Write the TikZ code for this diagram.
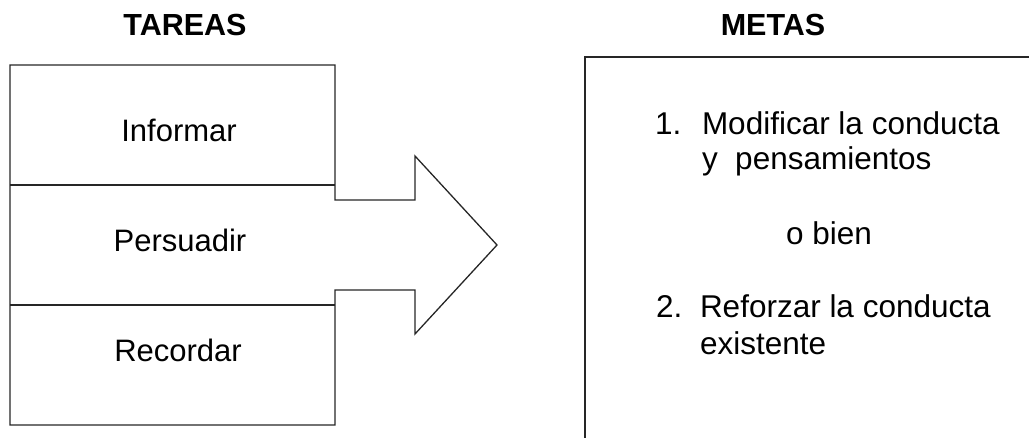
\documentclass[tikz,border=0pt]{standalone}
\usepackage{fontspec}
\setmainfont{Liberation Sans}
\begin{document}
\begin{tikzpicture}[x=1pt,y=-1pt,
  every node/.style={inner sep=0pt, outer sep=0pt, anchor=base, font=\fontsize{31}{35}\selectfont},
  title/.style={font=\fontsize{30.5}{35}\selectfont\bfseries},
  lbl/.style={anchor=base west, font=\fontsize{31.5}{35}\selectfont},
  outline/.style={line width=1.3pt, draw=black!85, line join=miter}]
\useasboundingbox (0,0) rectangle (1029,438);
% titles
\node[title] (tareas) at (185,36) {TAREAS};
\node[title] (metas) at (773,36) {METAS};
% left block with arrow
\draw[outline] (335,200) -- (335,65) -- (10,65) -- (10,425) -- (335,425) -- (335,290)
  -- (415,290) -- (415,334) -- (497,245) -- (415,156) -- (415,200) -- cycle;
\draw[outline] (10,185) -- (335,185);
\draw[outline] (10,305) -- (335,305);
\node (informar) at (179,142) {Informar};
\node (persuadir) at (180,252) {Persuadir};
\node (recordar) at (178,362) {Recordar};
% right box (open to the right and bottom)
\draw[outline] (1035,57) -- (585,57) -- (585,445);
\node[lbl] (n1) at (655,135) {1.};
\node[lbl] (g1a) at (702,135) {Modificar la conducta};
\node[lbl] (g1b) at (702,170) {y\ \ pensamientos};
\node[font=\fontsize{31.5}{35}\selectfont] (obien) at (829,245) {o bien};
\node[lbl] (n2) at (656,318) {2.};
\node[lbl] (g2a) at (700,318) {Reforzar la conducta};
\node[lbl] (g2b) at (700,355) {existente};
\end{tikzpicture}
\end{document}
